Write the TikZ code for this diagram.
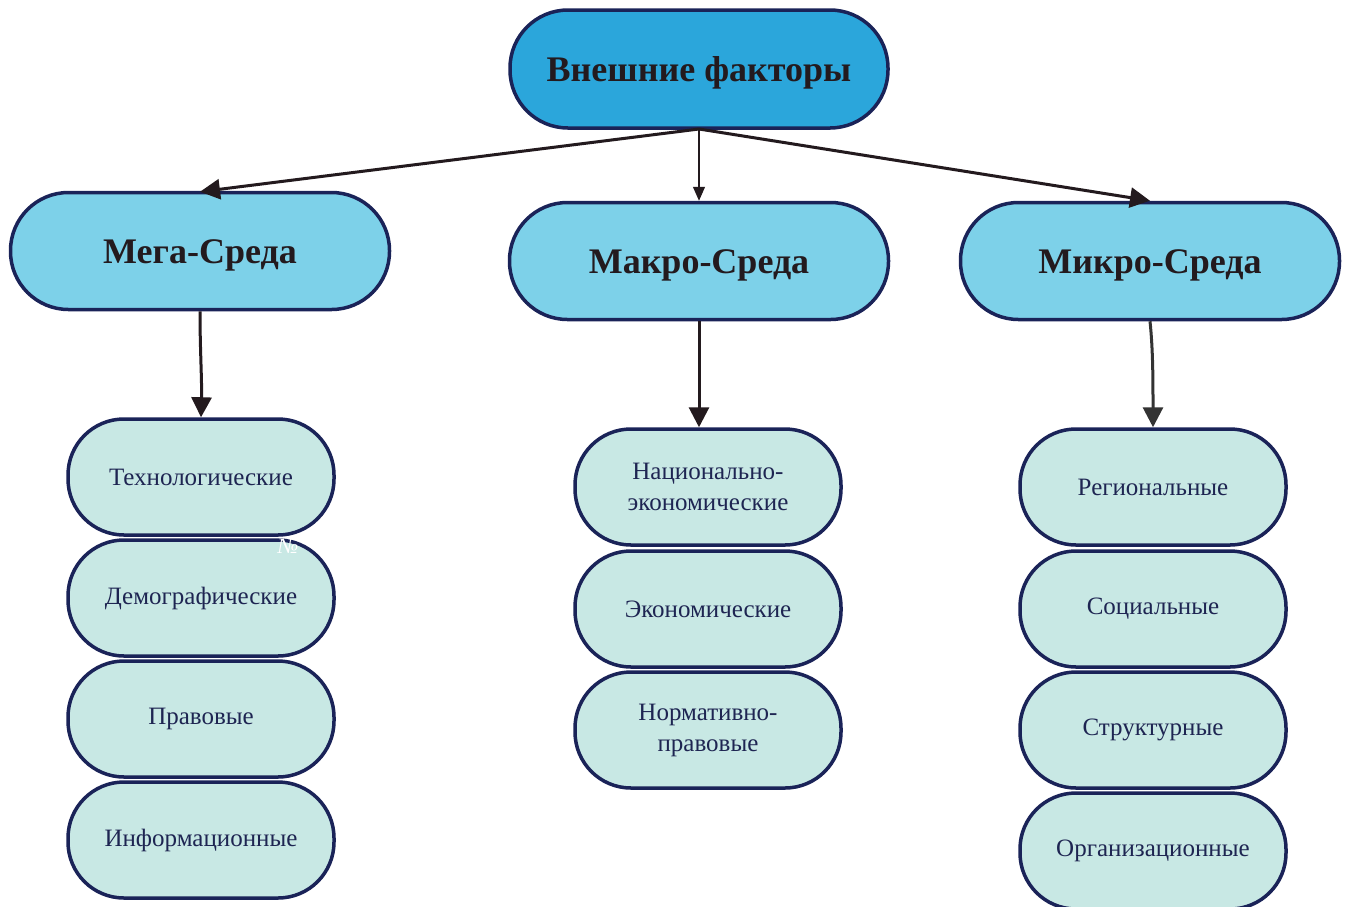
\documentclass[tikz,border=0pt]{standalone}
\usepackage{fontspec}
\setmainfont{Liberation Serif}
\usetikzlibrary{arrows.meta}
\definecolor{navy}{HTML}{1A2358}
\definecolor{topfill}{HTML}{2BA6DB}
\definecolor{midfill}{HTML}{7DD1E9}
\definecolor{leaffill}{HTML}{C8E8E4}
\definecolor{darktxt}{HTML}{231A1E}
\definecolor{leaftxt}{HTML}{1E2552}
\definecolor{arr}{HTML}{231A1E}
\tikzset{
  topbox/.style={draw=navy, line width=3.5pt, fill=topfill, rounded corners=58pt,
    minimum width=378pt, minimum height=118pt, inner sep=0pt,
    text height=25pt, text depth=0pt,
    font=\fontsize{36}{40}\selectfont\bfseries, text=darktxt},
  midbox/.style={draw=navy, line width=3.5pt, fill=midfill, rounded corners=58pt,
    minimum width=379pt, minimum height=117pt, inner sep=0pt,
    text height=25pt, text depth=0pt,
    font=\fontsize{36}{40}\selectfont\bfseries, text=darktxt},
  leafbox/.style={draw=navy, line width=3.5pt, fill=leaffill, rounded corners=56pt,
    minimum width=266pt, minimum height=116pt, inner sep=0pt, align=center,
    font=\fontsize{25}{31}\selectfont, text=leaftxt},
  bigarrow/.style={line width=3pt, draw=arr, -{Triangle[length=20pt,width=20pt]}},
  thinarrow/.style={line width=1.3pt, draw=arr, -{Triangle[length=14pt,width=12pt]}}
}
\begin{document}
\begin{tikzpicture}[x=1pt,y=-1pt]
\useasboundingbox (0,0) rectangle (1352,906);
\fill[white] (0,0) rectangle (1352,906);

\node[topbox] (top) at (699,69) {Внешние факторы};
\node[midbox] (mega) at (200,251) {Мега-Среда};
\node[midbox] (makro) at (699,261) {Макро-Среда};
\node[midbox] (mikro) at (1150,261) {Микро-Среда};

% left column
\node[leafbox] (l1) at (201,477) {Технологические};
\node[leafbox] (l2) at (201,598) {Демографические};
\node[leafbox] (l3) at (201,719) {Правовые};
\node[leafbox] (l4) at (201,840) {Информационные};
% middle column
\node[leafbox] (m1) at (708,487) {Национально-\\экономические};
\node[leafbox] (m2) at (708,609) {Экономические};
\node[leafbox] (m3) at (708,730) {Нормативно-\\правовые};
% right column
\node[leafbox] (r1) at (1153,487) {Региональные};
\node[leafbox] (r2) at (1153,609) {Социальные};
\node[leafbox] (r3) at (1153,730) {Структурные};
\node[leafbox] (r4) at (1153,851) {Организационные};

\node[text=white, font=\fontsize{22}{24}\selectfont\itshape] (mark) at (288,546) {№};

\coordinate (tb) at (699,129);
\draw[bigarrow] (tb) -- ([yshift=-1pt]mega.north);
\draw[thinarrow] (tb) -- (makro.north);
\draw[bigarrow] (tb) -- (mikro.north);

\draw[bigarrow] (mega.south) .. controls (200,350) and (202,380) .. (l1.north);
\draw[bigarrow] (makro.south) -- ([xshift=-9pt]m1.north);
\draw[bigarrow, draw=black!80] (mikro.south) .. controls (1153,350) and (1153,380) .. (r1.north);
\end{tikzpicture}
\end{document}
